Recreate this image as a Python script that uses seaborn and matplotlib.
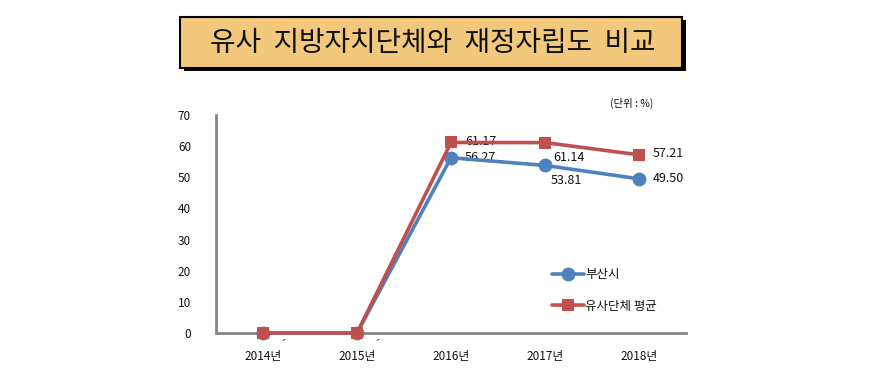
"""유사 지방자치단체와 재정자립도 비교 line chart."""

import matplotlib.pyplot as plt
import pandas as pd
import seaborn as sns
from matplotlib.patches import Rectangle

years = ["2014년", "2015년", "2016년", "2017년", "2018년"]
busan = [0, 0, 56.27, 53.81, 49.50]
peer_avg = [0, 0, 61.17, 61.14, 57.21]
series_names = ["부산시", "유사단체 평균"]

BLUE = "#4F81BD"
RED = "#C0504D"

sns.set_theme(style="white")
plt.rcParams["font.family"] = ["Noto Sans CJK KR", "DejaVu Sans"]

df = pd.DataFrame({"year": years, series_names[0]: busan, series_names[1]: peer_avg})
df["pos"] = range(len(years))

fig = plt.figure(figsize=(8.96, 3.75), dpi=100)
ax = fig.add_axes([216 / 896, 1 - 333 / 375, (686 - 216) / 896, (333 - 115) / 375])

sns.lineplot(data=df, x="pos", y=series_names[0], ax=ax, color=BLUE, lw=2.6,
             marker="o", markersize=10, markeredgewidth=0, label=series_names[0])
sns.lineplot(data=df, x="pos", y=series_names[1], ax=ax, color=RED, lw=2.6,
             marker="s", markersize=9, markeredgewidth=0, label=series_names[1])

ax.set_xlim(-0.5, len(years) - 0.5)
ax.set_ylim(0, 70)
ax.set_xticks(df["pos"])
ax.set_xticklabels(years)
ax.set_yticks(range(0, 71, 10))
ax.set_xlabel("")
ax.set_ylabel("")
ax.tick_params(axis="both", length=0, labelsize=8.5, colors="#111111")
ax.tick_params(axis="x", pad=12)
ax.tick_params(axis="y", pad=18)
for side in ["top", "right"]:
    ax.spines[side].set_visible(False)
for side in ["left", "bottom"]:
    ax.spines[side].set_color("#868686")
    ax.spines[side].set_linewidth(2)
for line in ax.lines:
    line.set_clip_on(False)
    line.set_zorder(4)

# data labels
lbl = dict(fontsize=9, color="#111111")
for i in range(2, len(years)):
    b, r = busan[i], peer_avg[i]
    if i == 3:
        ax.annotate(f"{r:.2f}", (i, r), xytext=(6, -11), textcoords="offset points", va="center", **lbl)
        ax.annotate(f"{b:.2f}", (i, b), xytext=(4, -11), textcoords="offset points", va="center", **lbl)
    else:
        ax.annotate(f"{r:.2f}", (i, r), xytext=(10, 1), textcoords="offset points", va="center", **lbl)
        ax.annotate(f"{b:.2f}", (i, b), xytext=(10, 0), textcoords="offset points", va="center", **lbl)
for i in range(2):
    ax.annotate("-", (i, 0), xytext=(12, -5), textcoords="offset points", va="center",
                rotation=30, fontsize=8, color="#111111")

leg = ax.legend(loc="upper left", bbox_to_anchor=(0.69, 0.35), frameon=False,
                fontsize=9, handlelength=2.6, handletextpad=0.1, labelspacing=1.5)
for t in leg.get_texts():
    t.set_color("#111111")

fig.text(610 / 896, 1 - 103 / 375, "(단위 : %)", fontsize=7.5, va="center", color="#111111")

# title box with shadow
fig.patches.append(Rectangle((184 / 896, 1 - 71 / 375), 502 / 896, 51 / 375,
                             transform=fig.transFigure, facecolor="black", edgecolor="none"))
fig.patches.append(Rectangle((180 / 896, 1 - 68 / 375), 502 / 896, 51 / 375,
                             transform=fig.transFigure, facecolor="#F2C97C",
                             edgecolor="black", linewidth=1.5))
fig.text(433 / 896, 1 - 43 / 375, "유사  지방자치단체와  재정자립도  비교",
         fontsize=20, ha="center", va="center", color="#111111")

fig.savefig("out.png", dpi=100)
